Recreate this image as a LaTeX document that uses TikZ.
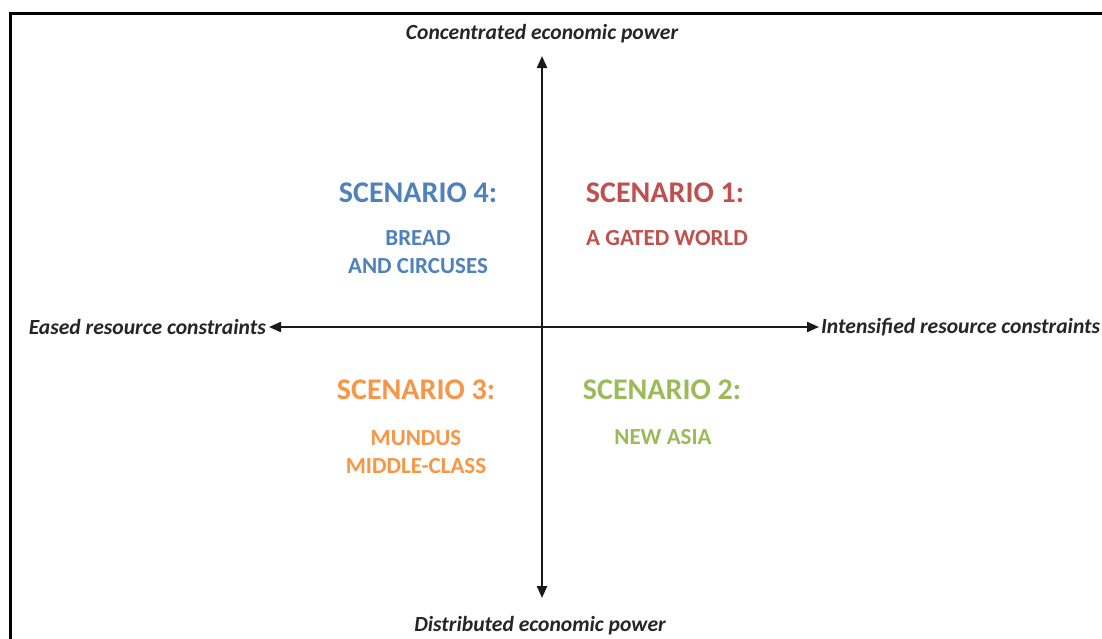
\documentclass[tikz,border=0pt]{standalone}
\usepackage{fontspec}
\setmainfont{Carlito}
\usetikzlibrary{arrows.meta}
\definecolor{sblue}{RGB}{79,129,189}
\definecolor{sred}{RGB}{192,80,77}
\definecolor{sorange}{RGB}{247,150,70}
\definecolor{sgreen}{RGB}{155,187,89}
\begin{document}
\begin{tikzpicture}[x=1pt,y=-1pt,
  axislabel/.style={font=\fontsize{21.6}{24}\selectfont\bfseries\itshape, text=black!85, inner sep=0pt},
  scentitle/.style={font=\fontsize{30}{34}\selectfont\bfseries, inner sep=0pt},
  scenname/.style={font=\fontsize{23}{28}\selectfont\bfseries, inner sep=0pt, align=center},
  axis/.style={line width=2.2pt, black!90, -{Triangle[length=12pt,width=10pt]}},
  frameline/.style={line width=3pt, black}]
\useasboundingbox (0,0) rectangle (1102,638);
\fill[white] (0,0) rectangle (1102,638);
\draw[frameline] (10,640) -- (10,13) -- (1104,13);

\coordinate (c) at (542,327);
\coordinate (ttip) at (542,56);
\coordinate (btip) at (542,598);
\coordinate (ltip) at (269,327);
\coordinate (rtip) at (819,327);

\node[axislabel] (top) at (542,34) {Concentrated economic power};
\node[axislabel] (bot) at (540,626) {Distributed economic power};
\node[axislabel, anchor=east] (left) at (266,327) {Eased resource constraints};
\node[axislabel, anchor=west] (right) at (821,327) {Intensified resource constraints};

\draw[axis] (c) -- (ttip);
\draw[axis] (c) -- (btip);
\draw[axis] (c) -- (ltip);
\draw[axis] (c) -- (rtip);

\node[scentitle, text=sblue] (s4) at (418,193) {SCENARIO 4:};
\node[scenname, text=sblue] (n4) at (418,252) {BREAD\\AND CIRCUSES};
\node[scentitle, text=sred] (s1) at (665,193) {SCENARIO 1:};
\node[scenname, text=sred] (n1) at (667,238) {A GATED WORLD};
\node[scentitle, text=sorange] (s3) at (416,390) {SCENARIO 3:};
\node[scenname, text=sorange] (n3) at (416,452) {MUNDUS\\MIDDLE-CLASS};
\node[scentitle, text=sgreen] (s2) at (662,390) {SCENARIO 2:};
\node[scenname, text=sgreen] (n2) at (663,437) {NEW ASIA};
\end{tikzpicture}
\end{document}
